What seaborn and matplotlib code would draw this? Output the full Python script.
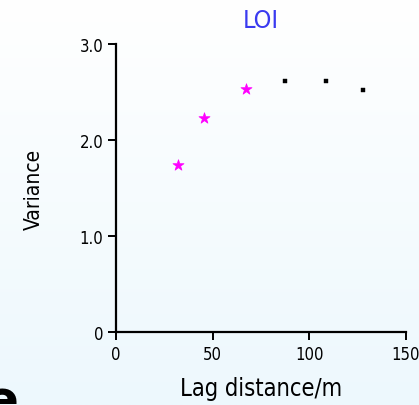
import numpy as np
import pandas as pd
import matplotlib
matplotlib.use("Agg")
import matplotlib.pyplot as plt
import seaborn as sns

# Experimental semivariogram of LOI
lag_fitted = [32, 45.5, 67]
var_fitted = [1.74, 2.23, 2.53]
lag_other = [87.5, 108.5, 128]
var_other = [2.61, 2.61, 2.52]
x_ticks = [0, 50, 100, 150]
y_ticks = [0, 1.0, 2.0, 3.0]
y_tick_labels = ["0", "1.0", "2.0", "3.0"]

sns.set_theme(style="ticks")
plt.rcParams["font.family"] = ["DejaVu Sans"]
plt.rcParams["font.stretch"] = "condensed"
plt.rcParams["text.color"] = "black"
plt.rcParams["axes.labelcolor"] = "black"

df = pd.DataFrame({
    "lag": lag_fitted + lag_other,
    "variance": var_fitted + var_other,
    "group": ["fitted"] * len(lag_fitted) + ["other"] * len(lag_other),
})

fig = plt.figure(figsize=(4.19, 4.06), dpi=100)

# soft white-to-pale-blue background
bg = fig.add_axes([0, 0, 1, 1], zorder=-10)
grad = np.linspace(0, 1, 256).reshape(-1, 1)
top = np.array([1.0, 1.0, 1.0])
bottom = np.array([237, 248, 253]) / 255.0
img = top + (bottom - top) * grad[:, :, None]
bg.imshow(img, aspect="auto", extent=[0, 1, 0, 1], origin="upper")
bg.axis("off")

ax = fig.add_axes([0.2768, 0.1798, 0.6922, 0.7094])
ax.patch.set_alpha(0)

sub_f = df[df.group == "fitted"]
sub_o = df[df.group == "other"]
sns.scatterplot(data=sub_f, x="lag", y="variance", ax=ax, marker="*",
                color="#ff00ff", s=70, edgecolor="#ff00ff", linewidth=0.5,
                legend=False, clip_on=False)
sns.scatterplot(data=sub_o, x="lag", y="variance", ax=ax, marker="s",
                color="black", s=6, edgecolor="black", linewidth=0.3,
                legend=False, clip_on=False)

ax.set_xlim(0, 150)
ax.set_ylim(0, 3.0)
ax.set_xticks(x_ticks)
ax.set_xticklabels([str(t) for t in x_ticks])
ax.set_yticks(y_ticks)
ax.set_yticklabels(y_tick_labels)
sns.despine(ax=ax)
for s in ("left", "bottom"):
    ax.spines[s].set_linewidth(1.6)
    ax.spines[s].set_color("black")
ax.tick_params(axis="both", direction="out", length=6, width=1.4,
               labelsize=12, colors="black", pad=3)

ax.set_xlabel("Lag distance/m", fontsize=17, labelpad=10)
ax.set_ylabel("Variance", fontsize=15, labelpad=26)
ax.set_title("LOI", color="#3a3af0", fontsize=18, pad=12)

# panel letter, partly cut off by the lower-left edge
fig.text(-15 / 419, -11 / 406, "e", fontsize=36, fontweight="bold",
         fontstretch="normal", color="black", ha="left", va="baseline")

fig.savefig("out.png", dpi=100)
